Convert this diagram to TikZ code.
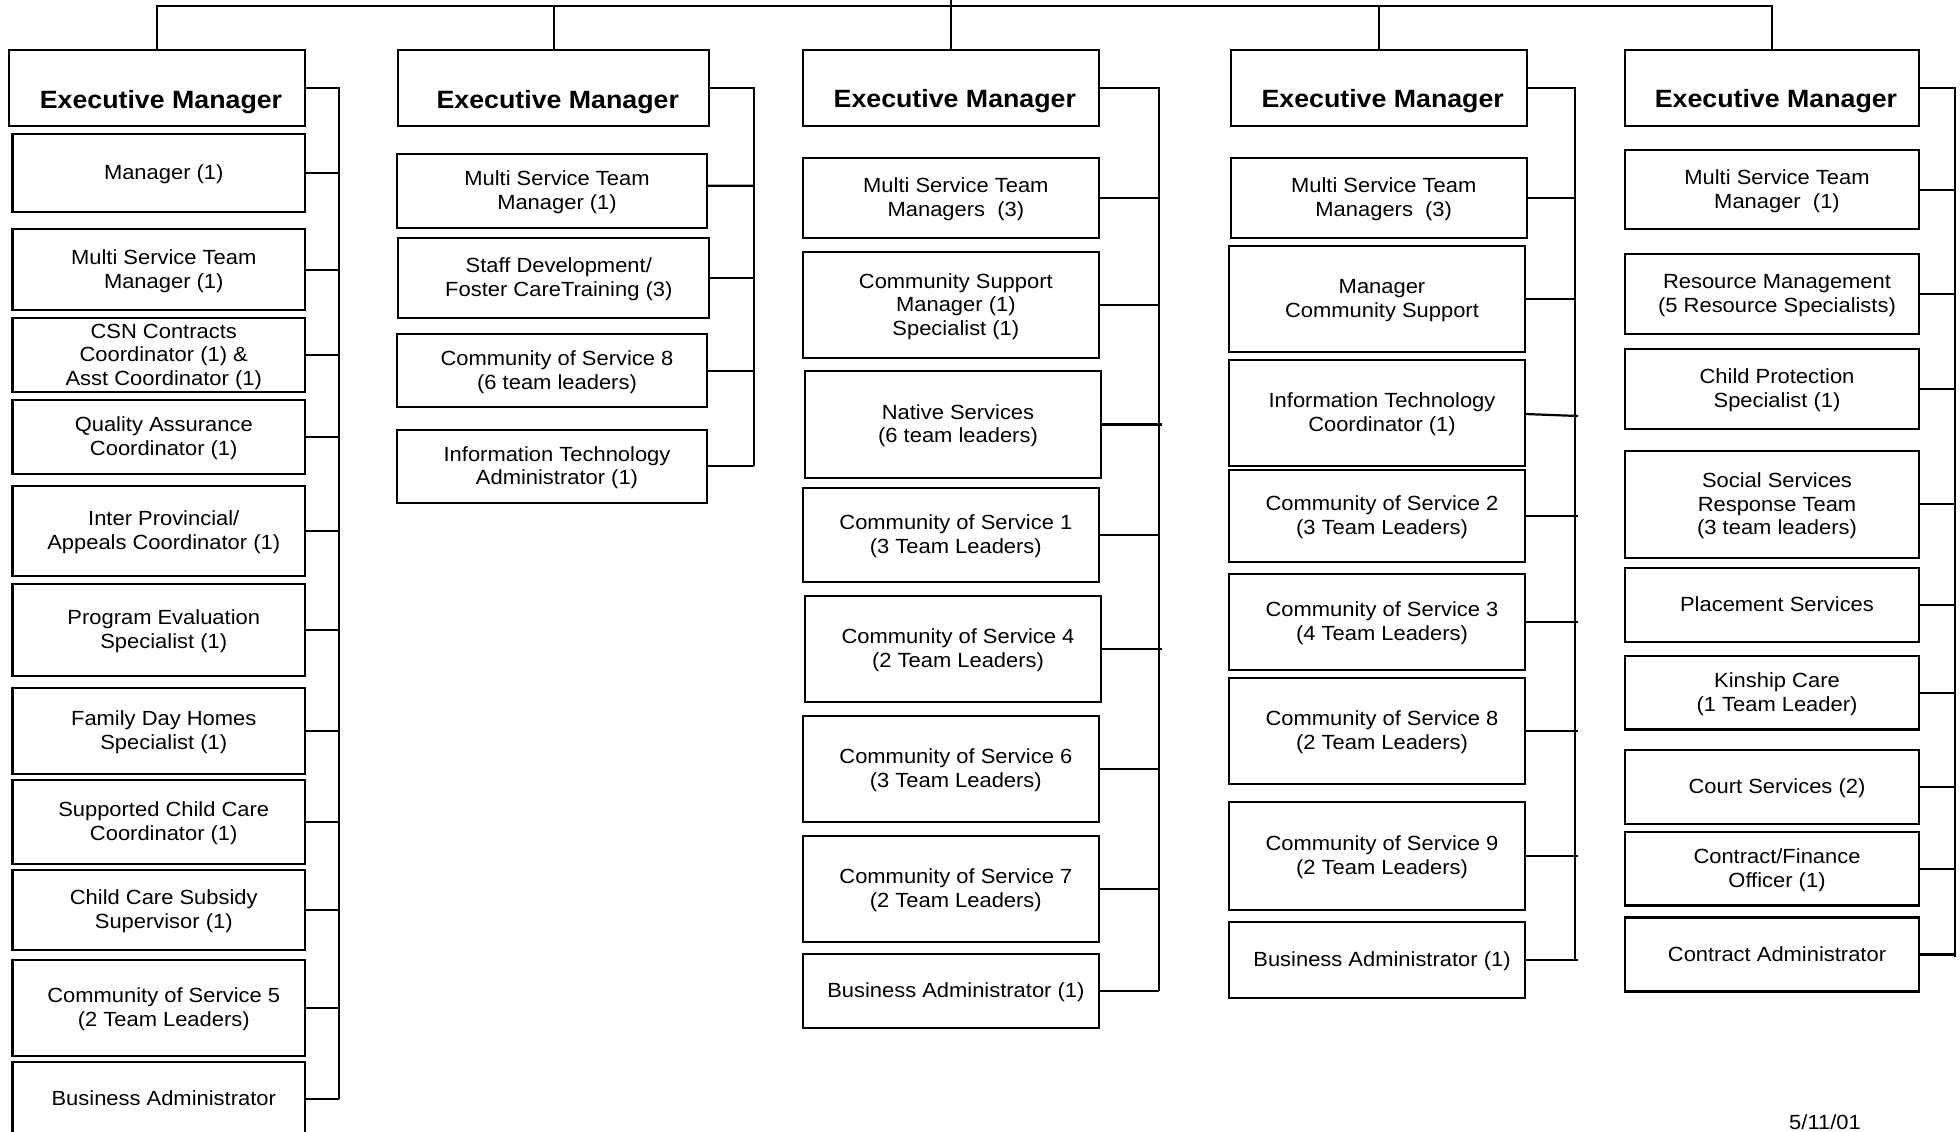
\documentclass[tikz,border=0pt]{standalone}
\usepackage{fontspec}
\setmainfont{Liberation Sans}[FakeStretch=1.07]
\newcommand\tb[1]{\hspace*{10pt}\raisebox{-2pt}[\height][\depth]{\begin{tabular}{@{}c@{}}#1\end{tabular}}}
\begin{document}
\begin{tikzpicture}[x=1pt,y=-1pt,
  box/.style={draw, rectangle, line width=2.2pt, inner sep=0pt, outer sep=0pt,
              font=\fontsize{20.5}{23.5}\selectfont},
  exec/.style={box, font=\fontsize{25}{29}\selectfont\bfseries, text height=40pt, text depth=0pt},
  link/.style={draw, line width=2.2pt}]
\useasboundingbox (0,0) rectangle (1960,1132);

% ---------- column 1 ----------
\node[exec, minimum width=296pt, minimum height=76pt] (e1) at (157,88) {\hspace*{8pt}Executive Manager};
\node[box, minimum width=292.5pt, minimum height=77.7pt] (a1) at (158.75,172.85) {\tb{Manager (1)}};
\node[box, minimum width=292.5pt, minimum height=80.7pt] (a2) at (158.75,269.65) {\tb{Multi Service Team\\Manager (1)}};
\node[box, minimum width=292.5pt, minimum height=74.6pt] (a3) at (158.75,355) {\tb{CSN Contracts\\Coordinator (1) \&\\Asst Coordinator (1)}};
\node[box, minimum width=292.5pt, minimum height=74pt] (a4) at (158.75,437) {\tb{Quality Assurance\\Coordinator (1)}};
\node[box, minimum width=292.5pt, minimum height=89.7pt] (a5) at (158.75,530.85) {\tb{Inter Provincial/\\Appeals Coordinator (1)}};
\node[box, minimum width=292.5pt, minimum height=91.7pt] (a6) at (158.75,629.85) {\tb{Program Evaluation\\Specialist (1)}};
\node[box, minimum width=292.5pt, minimum height=86.3pt] (a7) at (158.75,730.85) {\tb{Family Day Homes\\Specialist (1)}};
\node[box, minimum width=292.5pt, minimum height=84pt] (a8) at (158.75,822) {\tb{Supported Child Care\\Coordinator (1)}};
\node[box, minimum width=292.5pt, minimum height=80pt] (a9) at (158.75,910) {\tb{Child Care Subsidy\\Supervisor (1)}};
\node[box, minimum width=292.5pt, minimum height=95.7pt] (a10) at (158.75,1007.85) {\tb{Community of Service 5\\(2 Team Leaders)}};
\node[box, minimum width=292.5pt, minimum height=74pt] (a11) at (158.75,1099) {\tb{Business Administrator}};
\coordinate (bend1) at (339,1099);

% ---------- column 2 ----------
\node[exec, minimum width=311pt, minimum height=76pt] (e2) at (553.8,88) {\hspace*{8pt}Executive Manager};
\node[box, minimum width=310.6pt, minimum height=73.7pt] (b1) at (552,190.85) {\tb{Multi Service Team\\Manager (1)}};
\node[box, minimum width=311pt, minimum height=80pt] (b2) at (553.8,277.7) {\tb{Staff Development/\\Foster CareTraining (3)}};
\node[box, minimum width=310.6pt, minimum height=73.3pt] (b3) at (552,370.65) {\tb{Community of Service 8\\(6 team leaders)}};
\node[box, minimum width=310.6pt, minimum height=72.7pt] (b4) at (552,466.35) {\tb{Information Technology\\Administrator (1)}};
\coordinate (bend2) at (754.3,466.35);
\coordinate (b1c) at (754.3,185.7);

% ---------- column 3 ----------
\node[exec, minimum width=296.3pt, minimum height=75.7pt] (e3) at (950.85,87.85) {\hspace*{8pt}Executive Manager};
\node[box, minimum width=296.3pt, minimum height=80pt] (c1) at (950.85,198) {\tb{Multi Service Team\\Managers~~(3)}};
\node[box, minimum width=296.3pt, minimum height=106pt] (c2) at (950.85,305) {\tb{Community Support\\Manager (1)\\Specialist (1)}};
\node[box, minimum width=296pt, minimum height=107pt] (c3) at (953,424.5) {\tb{Native Services\\(6 team leaders)}};
\node[box, minimum width=296.3pt, minimum height=93.7pt] (c4) at (950.85,534.85) {\tb{Community of Service 1\\(3 Team Leaders)}};
\node[box, minimum width=296pt, minimum height=105.7pt] (c5) at (953,648.85) {\tb{Community of Service 4\\(2 Team Leaders)}};
\node[box, minimum width=296.3pt, minimum height=105.7pt] (c6) at (950.85,768.85) {\tb{Community of Service 6\\(3 Team Leaders)}};
\node[box, minimum width=296.3pt, minimum height=105.7pt] (c7) at (950.85,888.85) {\tb{Community of Service 7\\(2 Team Leaders)}};
\node[box, minimum width=296.3pt, minimum height=73.7pt] (c8) at (950.85,990.85) {\tb{Business Administrator (1)}};
\coordinate (bend3) at (1159,990.85);
\coordinate (tip3) at (1162,0);

% ---------- column 4 ----------
\node[exec, minimum width=296pt, minimum height=75.7pt] (e4) at (1378.7,87.85) {\hspace*{8pt}Executive Manager};
\node[box, minimum width=296pt, minimum height=80pt] (d1) at (1378.7,198) {\tb{Multi Service Team\\Managers~~(3)}};
\node[box, minimum width=296pt, minimum height=106.1pt] (d2) at (1377,298.75) {\tb{Manager\\Community Support}};
\node[box, minimum width=296pt, minimum height=106pt] (d3) at (1377,413) {\tb{Information Technology\\Coordinator (1)}};
\node[box, minimum width=296pt, minimum height=91.7pt] (d4) at (1377,515.85) {\tb{Community of Service 2\\(3 Team Leaders)}};
\node[box, minimum width=296pt, minimum height=96.3pt] (d5) at (1377,621.85) {\tb{Community of Service 3\\(4 Team Leaders)}};
\node[box, minimum width=296pt, minimum height=106.3pt] (d6) at (1377,730.85) {\tb{Community of Service 8\\(2 Team Leaders)}};
\node[box, minimum width=296pt, minimum height=108pt] (d7) at (1377,856) {\tb{Community of Service 9\\(2 Team Leaders)}};
\node[box, minimum width=296pt, minimum height=76pt] (d8) at (1377,959.7) {\tb{Business Administrator (1)}};
\coordinate (bend4) at (1575,959.7);
\coordinate (tip4) at (1578,0);
\coordinate (d3tip) at (1578,416);

% ---------- column 5 ----------
\node[exec, minimum width=294pt, minimum height=75.7pt] (e5) at (1772,87.85) {\hspace*{8pt}Executive Manager};
\node[box, minimum width=294pt, minimum height=79.3pt] (f1) at (1772,189.65) {\tb{Multi Service Team\\Manager~~(1)}};
\node[box, minimum width=294pt, minimum height=80.4pt] (f2) at (1772,293.8) {\tb{Resource Management\\(5 Resource Specialists)}};
\node[box, minimum width=294pt, minimum height=79.6pt] (f3) at (1772,388.8) {\tb{Child Protection\\Specialist (1)}};
\node[box, minimum width=294pt, minimum height=107.2pt] (f4) at (1772,504.3) {\tb{Social Services\\Response Team\\(3 team leaders)}};
\node[box, minimum width=294pt, minimum height=74.4pt] (f5) at (1772,604.8) {\tb{Placement Services}};
\node[box, minimum width=294pt, minimum height=73.6pt] (f6) at (1772,692.7) {\tb{Kinship Care\\(1 Team Leader)}};
\node[box, minimum width=294pt, minimum height=74pt] (f7) at (1772,787) {\tb{Court Services (2)}};
\node[box, minimum width=294pt, minimum height=73.6pt] (f8) at (1772,868.6) {\tb{Contract/Finance\\Officer (1)}};
\node[box, minimum width=294pt, minimum height=74pt] (f9) at (1772,954.5) {\tb{Contract Administrator}};
\coordinate (bend5) at (1955,957);

% date
\node[anchor=base, inner sep=0pt, font=\fontsize{20.5}{23.5}\selectfont] (date) at (1825,1129) {5/11/01};

% ---------- top connector ----------
\coordinate (topy) at (0,5.7);
\coordinate (pagetop) at (0,-3);
\draw[link] (e1.north) |- (topy -| e5.north) -- (e5.north);
\draw[link] (e2.north) -- (e2.north |- topy);
\draw[link] (e3.north) -- (e3.north |- pagetop);
\draw[link] (e4.north) -- (e4.north |- topy);

% ---------- brackets ----------
\draw[link] (e1.east) -| (bend1);
\foreach \n in {a1,a2,a3,a4,a5,a6,a7,a8,a9,a10,a11} \draw[link] (\n.east) -- (\n.east -| bend1);

\draw[link] (e2.east) -| (bend2);
\draw[link] ([yshift=5.15pt]b1.east) -- (b1c);
\foreach \n in {b2,b3,b4} \draw[link] (\n.east) -- (\n.east -| bend2);

\draw[link] (e3.east) -| (bend3);
\foreach \n in {c1,c2,c4,c6,c7,c8} \draw[link] (\n.east) -- (\n.east -| bend3);
\foreach \n in {c3,c5} \draw[link] (\n.east) -- (\n.east -| tip3);

\draw[link] (e4.east) -| (bend4);
\foreach \n in {d1,d2} \draw[link] (\n.east) -- (\n.east -| bend4);
\draw[link] ([yshift=-1pt]d3.east) -- (d3tip);
\foreach \n in {d4,d5,d6,d7,d8} \draw[link] (\n.east) -- (\n.east -| tip4);

\draw[link] (e5.east) -| (bend5);
\foreach \n in {f1,f2,f3,f4,f5,f6,f7,f8,f9} \draw[link] (\n.east) -- (\n.east -| bend5);
\end{tikzpicture}
\end{document}
